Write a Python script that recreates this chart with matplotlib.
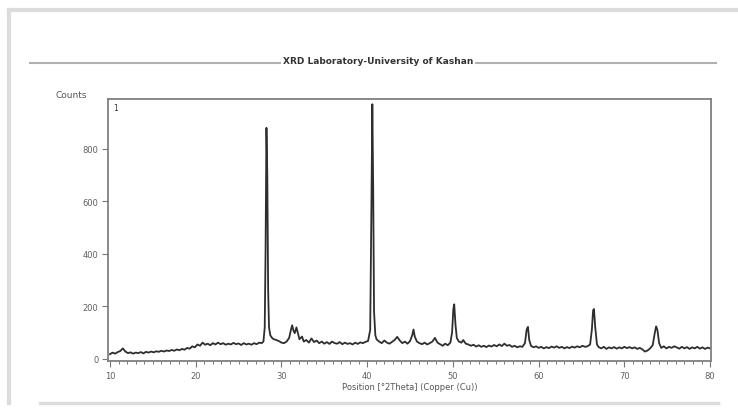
import matplotlib
matplotlib.use("Agg")
import matplotlib.pyplot as plt
from matplotlib.lines import Line2D
from matplotlib.ticker import MultipleLocator

# diffraction pattern (2theta, counts)
two_theta = [
    10.0, 10.3, 10.6, 10.9, 11.2, 11.5, 11.8, 12.1, 12.4, 12.7, 13.0, 13.3, 13.6, 13.9,
    14.2, 14.5, 14.8, 15.1, 15.4, 15.7, 16.0, 16.3, 16.6, 16.9, 17.2, 17.5, 17.8, 18.1,
    18.4, 18.7, 19.0, 19.3, 19.6, 19.9, 20.2, 20.5, 20.8, 21.1, 21.4, 21.7, 22.0, 22.3,
    22.6, 22.9, 23.2, 23.5, 23.8, 24.1, 24.4, 24.7, 25.0, 25.3, 25.6, 25.9, 26.2, 26.5,
    26.8, 27.1, 27.4, 27.7, 27.9, 28.05, 28.15, 28.25, 28.35, 28.45, 28.55, 28.7, 28.9,
    29.1, 29.4, 29.7, 30.0, 30.3, 30.6, 30.9, 31.1, 31.25, 31.4, 31.55, 31.75, 31.9,
    32.1, 32.4, 32.6, 32.9, 33.2, 33.5, 33.8, 34.1, 34.4, 34.7, 35.0, 35.3, 35.6, 35.9,
    36.2, 36.5, 36.8, 37.1, 37.4, 37.7, 38.0, 38.3, 38.6, 38.9, 39.2, 39.5, 39.8, 40.1,
    40.35, 40.5, 40.6, 40.7, 40.8, 40.95, 41.1, 41.4, 41.7, 42.0, 42.3, 42.6, 42.9, 43.2,
    43.5, 43.8, 44.1, 44.4, 44.7, 45.0, 45.25, 45.4, 45.55, 45.8, 46.1, 46.4, 46.7, 47.0,
    47.3, 47.6, 47.9, 48.2, 48.5, 48.8, 49.1, 49.4, 49.7, 49.9, 50.05, 50.15, 50.3, 50.45,
    50.7, 51.0, 51.2, 51.5, 51.8, 52.1, 52.4, 52.7, 53.0, 53.3, 53.6, 53.9, 54.2, 54.5,
    54.8, 55.1, 55.4, 55.7, 56.0, 56.3, 56.6, 56.9, 57.2, 57.5, 57.8, 58.1, 58.4, 58.6,
    58.75, 58.9, 59.1, 59.4, 59.7, 60.0, 60.3, 60.6, 60.9, 61.2, 61.5, 61.8, 62.1, 62.4,
    62.7, 63.0, 63.3, 63.6, 63.9, 64.2, 64.5, 64.8, 65.1, 65.4, 65.7, 66.0, 66.2, 66.35,
    66.45, 66.6, 66.8, 67.0, 67.3, 67.6, 67.9, 68.2, 68.5, 68.8, 69.1, 69.4, 69.7, 70.0,
    70.3, 70.6, 70.9, 71.2, 71.5, 71.8, 72.1, 72.4, 72.7, 73.0, 73.3, 73.55, 73.7, 73.85,
    74.05, 74.3, 74.6, 74.9, 75.2, 75.5, 75.8, 76.1, 76.4, 76.7, 77.0, 77.3, 77.6, 77.9,
    78.2, 78.5, 78.8, 79.1, 79.4, 79.7, 80.0,
]
counts = [
    18, 24, 20, 26, 30, 40, 28, 22, 25, 20, 24, 22, 26, 21,
    27, 24, 28, 25, 29, 27, 31, 28, 32, 30, 34, 31, 36, 33,
    38, 35, 42, 39, 48, 44, 55, 50, 62, 54, 58, 52, 60, 55,
    62, 56, 60, 54, 58, 55, 61, 56, 59, 53, 60, 55, 58, 54,
    60, 56, 62, 60, 66, 120, 420, 880, 700, 260, 120, 90, 80,
    75, 72, 68, 62, 60, 66, 80, 110, 128, 108, 98, 120, 100,
    75, 85, 66, 72, 62, 78, 64, 70, 60, 66, 58, 64, 57, 66,
    60, 58, 64, 56, 62, 57, 60, 55, 62, 57, 63, 60, 65, 68,
    110, 600, 970, 650, 180, 90, 74, 66, 60, 70, 62, 58, 65, 72,
    84, 70, 60, 66, 58, 68, 90, 112, 85, 66, 60, 56, 62, 55,
    60, 66, 80, 62, 56, 50, 58, 52, 62, 100, 190, 208, 130, 80,
    66, 62, 72, 58, 55, 50, 54, 47, 52, 46, 50, 45, 51, 47,
    53, 48, 55, 49, 58, 50, 53, 46, 50, 44, 48, 46, 60, 112,
    122, 72, 50, 44, 48, 42, 46, 40, 45, 41, 47, 43, 48, 42,
    46, 40, 45, 41, 47, 43, 48, 44, 50, 46, 48, 55, 110, 185,
    190, 120, 55, 45, 40, 46, 38, 44, 40, 45, 39, 44, 40, 46,
    41, 45, 40, 44, 38, 42, 36, 28, 32, 40, 52, 100, 124, 110,
    60, 42, 48, 40, 46, 42, 48, 44, 39, 46, 40, 45, 38, 44,
    40, 46, 39, 44, 38, 43, 40,
]

x_ticks = [10, 20, 30, 40, 50, 60, 70, 80]
y_ticks = [0, 200, 400, 600, 800]

W, H = 738, 410
fig = plt.figure(figsize=(W / 100, H / 100), dpi=100)

# outer frame of the report page
gray = "#dcdcdc"
fig.add_artist(Line2D([9 / W, 1.0], [1 - 11 / H, 1 - 11 / H], color=gray, lw=3))
fig.add_artist(Line2D([9 / W, 9 / W], [1 - 11 / H, 1 - 404 / H], color=gray, lw=3))
fig.add_artist(Line2D([40 / W, 718 / W], [1 - 404 / H, 1 - 404 / H], color=gray, lw=2.5))

# title line with title on top
fig.add_artist(Line2D([30 / W, 716 / W], [1 - 64 / H, 1 - 64 / H], color="#b0b0b0", lw=1.5))
fig.text(378 / W, 1 - 62 / H, "XRD Laboratory-University of Kashan", ha="center", va="center",
         fontsize=6.5, fontweight="bold", color="#333333",
         bbox=dict(facecolor="white", edgecolor="none", pad=1.5))

fig.text(55 / W, 1 - 95 / H, "Counts", ha="left", va="center", fontsize=6.5, color="#555555")

ax = fig.add_axes([108 / W, 1 - 362 / H, (711 - 108) / W, (362 - 100) / H])
ax.plot(two_theta, counts, color="#2e2e2e", lw=1.3)

ax.set_xlim(9.77, 80.1)
ax.set_ylim(-8, 990)
ax.set_xticks(x_ticks)
ax.set_yticks(y_ticks)
ax.xaxis.set_minor_locator(MultipleLocator(1))
ax.tick_params(axis="both", which="major", labelsize=6, labelcolor="#606060",
               color="#777777", length=4, width=0.8)
ax.tick_params(axis="x", which="minor", color="#777777", length=2.5, width=0.7)
ax.tick_params(axis="y", pad=3)
for s in ax.spines.values():
    s.set_color("#808080")
    s.set_linewidth(1.3)

ax.text(0.008, 0.985, "1", transform=ax.transAxes, ha="left", va="top", fontsize=5.5, color="#333333")

fig.text(410 / W, 1 - 388 / H, "Position [°2Theta] (Copper (Cu))", ha="center", va="center",
         fontsize=6, color="#555555")

fig.savefig("out.png", dpi=100)
